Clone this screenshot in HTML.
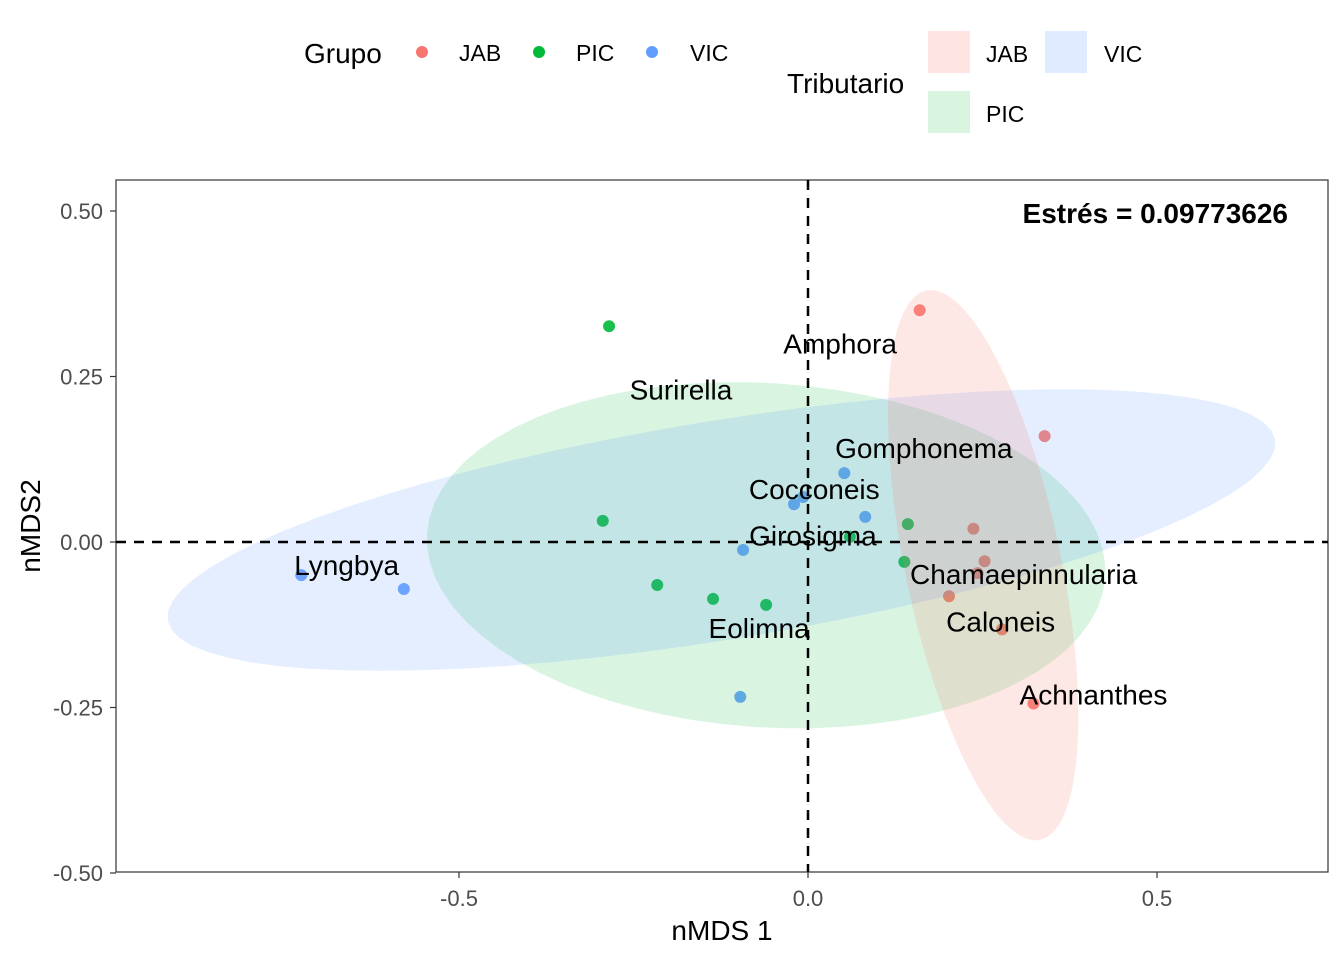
<!DOCTYPE html>
<html><head><meta charset="utf-8"><style>
body{margin:0;background:#fff}
svg{display:block;font-family:"Liberation Sans",Arial,sans-serif}
</style></head><body>
<svg id="c" width="1344" height="960">
<g id="legend">
<text x="304" y="63" font-size="28">Grupo</text>
<circle cx="422" cy="52" r="6" fill="#F8766D"/>
<text x="459" y="61" font-size="23">JAB</text>
<circle cx="539" cy="52" r="6" fill="#00BA38"/>
<text x="576" y="61" font-size="23">PIC</text>
<circle cx="652" cy="52" r="6" fill="#619CFF"/>
<text x="690" y="61" font-size="23">VIC</text>
<text x="787" y="93" font-size="28">Tributario</text>
<rect x="928" y="31" width="42" height="42" fill="#F8766D" fill-opacity="0.2"/>
<text x="986" y="62" font-size="23">JAB</text>
<rect x="1045" y="31" width="42" height="42" fill="#619CFF" fill-opacity="0.2"/>
<text x="1104" y="62" font-size="23">VIC</text>
<rect x="928" y="91" width="42" height="42" fill="#00BA38" fill-opacity="0.15"/>
<text x="986" y="122" font-size="23">PIC</text>
</g>
<g id="plot"></g>
</svg>
<script>
const jabX=[0.160,0.339,0.237,0.253,0.243,0.202,0.278,0.323];
const jabY=[0.350,0.160,0.020,-0.029,-0.047,-0.082,-0.132,-0.244];
const picX=[-0.285,-0.294,-0.216,-0.136,-0.060,0.143,0.138,0.060];
const picY=[0.326,0.032,-0.065,-0.086,-0.095,0.027,-0.030,0.008];
const vicX=[-0.726,-0.579,-0.093,-0.097,-0.020,-0.007,0.052,0.082];
const vicY=[-0.050,-0.071,-0.012,-0.234,0.057,0.068,0.104,0.038];
const ellGroups=["PIC","VIC","JAB"];
const ellCx=[-0.060,-0.124,0.251];
const ellCy=[-0.020,0.018,-0.035];
const ellA=[0.487,0.805,0.423];
const ellB=[0.260,0.165,0.112];
const ellAng=[-4,9.8,-79];
const labels=["Amphora","Surirella","Gomphonema","Cocconeis","Girosigma","Lyngbya","Chamaepinnularia","Caloneis","Eolimna","Achnanthes"];
const labX=[0.046,-0.182,0.166,0.009,0.007,-0.661,0.309,0.276,-0.070,0.409];
const labY=[0.300,0.230,0.142,0.080,0.010,-0.035,-0.048,-0.120,-0.130,-0.230];
const xTicks=[-0.5,0.0,0.5], xTickLab=["-0.5","0.0","0.5"];
const yTicks=[0.5,0.25,0,-0.25,-0.5], yTickLab=["0.50","0.25","0.00","-0.25","-0.50"];
const colors={JAB:"#F8766D",PIC:"#00BA38",VIC:"#619CFF"};
const X=v=>808+v*698, Y=v=>542-v*662;
const NS="http://www.w3.org/2000/svg", g=document.getElementById('plot');
function mk(t,a,p){const e=document.createElementNS(NS,t);for(const k in a)e.setAttribute(k,a[k]);(p||g).appendChild(e);return e;}
const panel=mk('rect',{x:116,y:180,width:1212,height:692,fill:'#fff',stroke:'#333','stroke-width':1.2});


function pts(xs,ys,c,n){xs.forEach((v,i)=>{const e=mk('circle',{cx:X(v),cy:Y(ys[i]),r:6,fill:c,'fill-opacity':0.9});

});}
pts(jabX,jabY,colors.JAB,'jab');pts(picX,picY,colors.PIC,'pic');pts(vicX,vicY,colors.VIC,'vic');
ellGroups.forEach((gname,i)=>{const a=ellAng[i]*Math.PI/180;let d='';
for(let k=0;k<=72;k++){const t=k/72*2*Math.PI;const u=ellA[i]*Math.cos(t),w=ellB[i]*Math.sin(t);
const px=X(ellCx[i])+(u*Math.cos(a)-w*Math.sin(a))*698, py=Y(ellCy[i])-(u*Math.sin(a)+w*Math.cos(a))*662;
d+=(k?'L':'M')+px.toFixed(1)+','+py.toFixed(1);}
const e=mk('path',{d:d+'Z',fill:colors[gname],'fill-opacity':gname==='PIC'?0.15:0.17,stroke:'none'});

});
const h=mk('line',{x1:116,x2:1328,y1:Y(0),y2:Y(0),stroke:'#000','stroke-width':2.5,'stroke-dasharray':'10,8'});


const v=mk('line',{x1:X(0),x2:X(0),y1:180,y2:872,stroke:'#000','stroke-width':2.5,'stroke-dasharray':'10,8'});


labels.forEach((s,i)=>{const e=mk('text',{x:X(labX[i]),y:Y(labY[i])+10,'font-size':28,'text-anchor':'middle'});e.textContent=s;

});
xTicks.forEach((t,i)=>{const l=mk('line',{x1:X(t),x2:X(t),y1:872,y2:878,stroke:'#333','stroke-width':1.2});


const e=mk('text',{x:X(t),y:906,'font-size':22,fill:'#4d4d4d','text-anchor':'middle'});e.textContent=xTickLab[i];

});
yTicks.forEach((t,i)=>{const l=mk('line',{x1:110,x2:116,y1:Y(t),y2:Y(t),stroke:'#333','stroke-width':1.2});


const e=mk('text',{x:103,y:Y(t)+8,'font-size':22,fill:'#4d4d4d','text-anchor':'end'});e.textContent=yTickLab[i];

});
const xt=mk('text',{x:722,y:940,'font-size':28,'text-anchor':'middle'});xt.textContent='nMDS 1';


const yt=mk('text',{x:0,y:0,'font-size':28,'text-anchor':'middle',transform:'translate(40,526) rotate(-90)'});yt.textContent='nMDS2';


const st=mk('text',{x:1288,y:223,'font-size':28,'font-weight':'bold','text-anchor':'end'});st.textContent='Estrés = 0.09773626';


</script>
</body></html>
